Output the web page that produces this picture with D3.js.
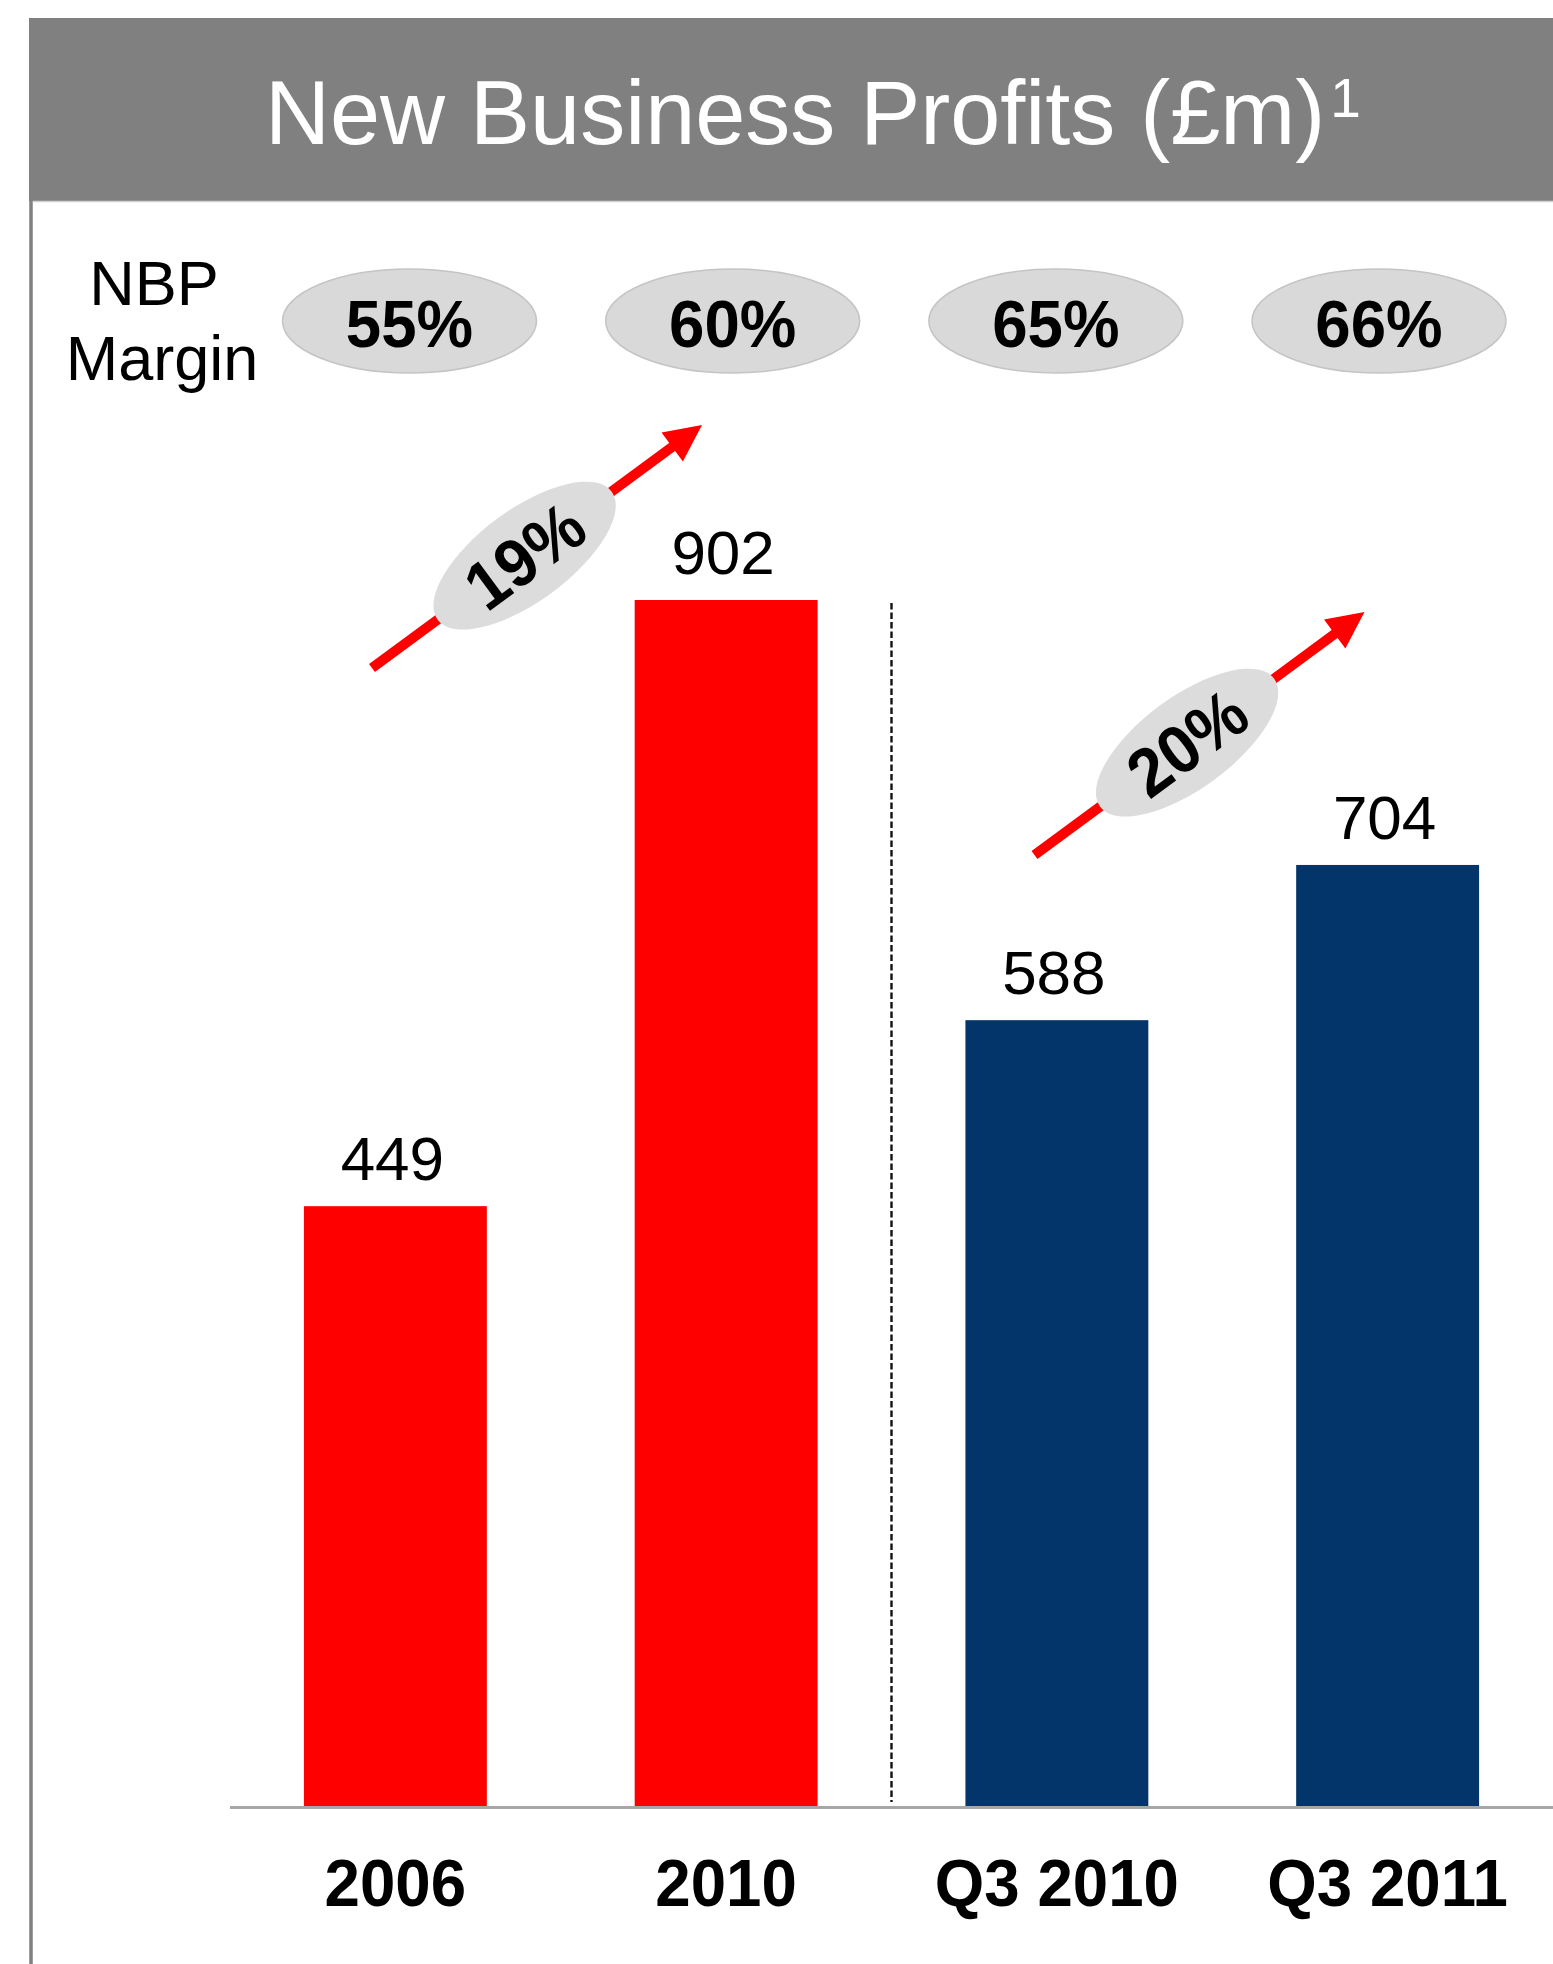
<!DOCTYPE html>
<html>
<head>
<meta charset="utf-8">
<script src="https://cdn.jsdelivr.net/npm/d3@7"></script>
<style>
  html, body { margin: 0; padding: 0; background: #fff; }
  svg { display: block; font-family: "Liberation Sans", Arial, Helvetica, sans-serif; }
</style>
</head>
<body>
<svg id="chart" width="1553" height="1964"></svg>
<script>
// New business profits (£m) and NBP margin by period
const categories = ["2006", "2010", "Q3 2010", "Q3 2011"];
const profits = [449, 902, 588, 704];
const margins = ["55%", "60%", "65%", "66%"];
const periodType = ["full year", "full year", "quarter", "quarter"];

// growth arrows: from one period to the next
const growthFrom = ["2006", "Q3 2010"];
const growthTo = ["2010", "Q3 2011"];
const growthLabels = ["19%", "20%"];

const W = 1553, H = 1964;
const baseY = 1807;
const svg = d3.select("#chart");

const x = d3.scaleBand()
  .domain(categories)
  .range([230, 1553])
  .paddingInner(0.447)
  .paddingOuter(0.2235);

const y = d3.scaleLinear()
  .domain([0, d3.max(profits)])
  .range([baseY, 600]);

const colour = d3.scaleOrdinal()
  .domain(["full year", "quarter"])
  .range(["#ff0000", "#03356a"]);

const marginX = d3.scalePoint()
  .domain(categories)
  .range([409.5, 1379]);

// horizontally condensed bold text
function condensed(sel, px, py, txt, size, sx) {
  return sel.append("text")
    .attr("transform", `translate(${px},${py}) scale(${sx},1)`)
    .attr("text-anchor", "middle")
    .attr("font-weight", "bold")
    .attr("font-size", size)
    .attr("fill", "#000")
    .text(txt);
}

// panel frame: title band and left rule
svg.append("rect")
  .attr("x", 29).attr("y", 18)
  .attr("width", W - 29).attr("height", 183)
  .attr("fill", "#808080");
svg.append("line")
  .attr("x1", 31).attr("x2", 31)
  .attr("y1", 201).attr("y2", H)
  .attr("stroke", "#808080").attr("stroke-width", 3.5);
svg.append("line")
  .attr("x1", 33).attr("x2", W)
  .attr("y1", 201.5).attr("y2", 201.5)
  .attr("stroke", "#d0d0d0").attr("stroke-width", 1.5);

const title = svg.append("text")
  .attr("x", 265).attr("y", 144)
  .attr("font-size", 90)
  .attr("fill", "#fff")
  .text("New Business Profits (£m)");
title.append("tspan")
  .attr("dx", 5).attr("dy", -27)
  .attr("font-size", 55)
  .text("1");

// NBP margin row
svg.append("text")
  .attr("x", 154).attr("y", 305)
  .attr("text-anchor", "middle").attr("font-size", 63)
  .text("NBP");
svg.append("text")
  .attr("x", 162).attr("y", 380)
  .attr("text-anchor", "middle").attr("font-size", 63)
  .text("Margin");

const marginG = svg.append("g");
categories.forEach((c, i) => {
  marginG.append("ellipse")
    .attr("cx", marginX(c)).attr("cy", 321)
    .attr("rx", 127).attr("ry", 52)
    .attr("fill", "#d9d9d9")
    .attr("stroke", "#c4c4c4").attr("stroke-width", 1.5);
  condensed(marginG, marginX(c), 347, margins[i], 67, 0.95);
});

// bars
svg.append("g").selectAll("rect")
  .data(categories)
  .join("rect")
  .attr("x", d => x(d))
  .attr("y", (d, i) => y(profits[i]))
  .attr("width", x.bandwidth())
  .attr("height", (d, i) => y(0) - y(profits[i]))
  .attr("fill", (d, i) => colour(periodType[i]));

// value labels
svg.append("g").selectAll("text")
  .data(categories)
  .join("text")
  .attr("x", d => x(d) + x.bandwidth() / 2 - 3)
  .attr("y", (d, i) => y(profits[i]) - 26)
  .attr("text-anchor", "middle")
  .attr("font-size", 62)
  .attr("fill", "#000")
  .text((d, i) => profits[i]);

// baseline
svg.append("line")
  .attr("x1", 230).attr("x2", W)
  .attr("y1", y(0) + 0.5).attr("y2", y(0) + 0.5)
  .attr("stroke", "#a6a6a6").attr("stroke-width", 3);

// divider between annual and quarterly periods
const divX = (x("2010") + x.bandwidth() + x("Q3 2010")) / 2;
svg.append("line")
  .attr("x1", divX).attr("x2", divX)
  .attr("y1", y(d3.max(profits)) + 3).attr("y2", y(0) - 5)
  .attr("stroke", "#111").attr("stroke-width", 2.4)
  .attr("stroke-dasharray", "6.5,3");

// category labels
const catG = svg.append("g");
categories.forEach(c => {
  condensed(catG, x(c) + x.bandwidth() / 2, 1906, c, 67, 0.95);
});

// growth arrows with rotated badge
const arrowTails = [[372, 668], [1034.5, 855]];
const arrowVec = [330, -243];
const arrowLen = Math.hypot(arrowVec[0], arrowVec[1]);
const arrowAng = Math.atan2(arrowVec[1], arrowVec[0]) * 180 / Math.PI;

growthLabels.forEach((lab, i) => {
  const g = svg.append("g")
    .attr("transform", `translate(${arrowTails[i][0]},${arrowTails[i][1]}) rotate(${arrowAng})`);
  g.append("line")
    .attr("x1", 0).attr("x2", arrowLen - 30)
    .attr("y1", 0).attr("y2", 0)
    .attr("stroke", "#ff0000").attr("stroke-width", 10);
  g.append("path")
    .attr("d", `M${arrowLen},0 L${arrowLen - 37},-18 L${arrowLen - 37},18 Z`)
    .attr("fill", "#ff0000");
  g.append("ellipse")
    .attr("cx", 189.5).attr("cy", 0)
    .attr("rx", 108).attr("ry", 46)
    .attr("fill", "#dcdcdc");
  g.append("text")
    .attr("transform", `translate(189.5,24) scale(0.95,1)`)
    .attr("text-anchor", "middle")
    .attr("font-weight", "bold")
    .attr("font-size", 68)
    .attr("fill", "#000")
    .text(lab);
});
</script>
</body>
</html>
